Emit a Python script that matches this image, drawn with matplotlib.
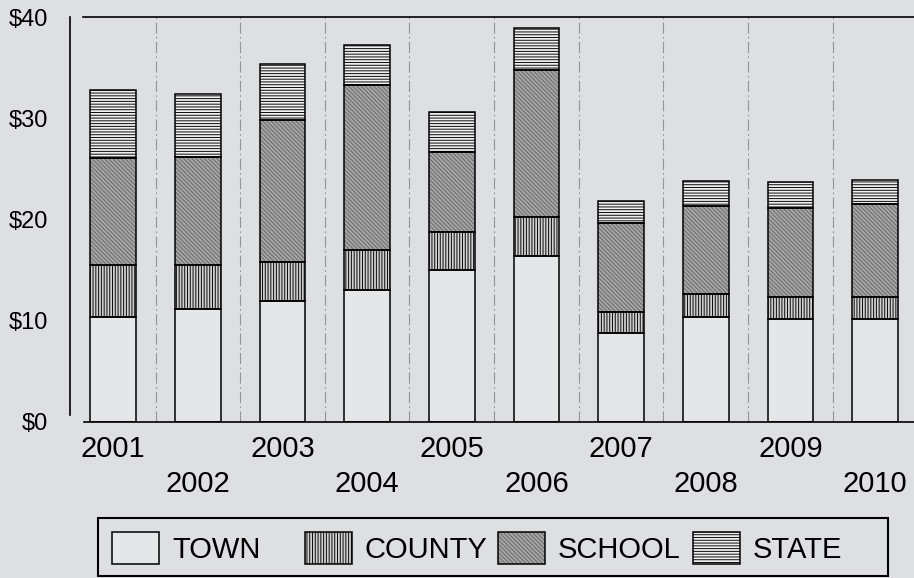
import numpy as np
import matplotlib
matplotlib.use('Agg')
import matplotlib.pyplot as plt
from matplotlib import transforms, font_manager
from matplotlib.patches import Patch, Rectangle
from matplotlib.legend_handler import HandlerTuple

# --- Data ---
years = ['2001', '2002', '2003', '2004', '2005', '2006', '2007', '2008', '2009', '2010']
series_names = ['TOWN', 'COUNTY', 'SCHOOL', 'STATE']
town = [10.4, 11.2, 12.0, 13.0, 15.0, 16.4, 8.8, 10.4, 10.2, 10.2]
county = [5.1, 4.3, 3.8, 4.0, 3.8, 3.8, 2.1, 2.2, 2.1, 2.1]
school = [10.6, 10.7, 14.0, 16.3, 7.9, 14.6, 8.8, 8.7, 8.8, 9.2]
state = [6.7, 6.2, 5.6, 3.9, 3.9, 4.1, 2.1, 2.5, 2.6, 2.4]
y_ticks = [0, 10, 20, 30, 40]
y_tick_labels = ['$0', '$10', '$20', '$30', '$40']

# --- Styling ---
BG = '#dddfe2'
STYLES = {
    'TOWN': dict(face='#e4e6e8', hatch=None, hc='black'),
    'COUNTY': dict(face='#d0d0d0', hatch='||||||', hc='#0a0a0a'),
    'SCHOOL': dict(face='#a6a6a6', hatch='\\\\\\\\\\\\\\\\', hc='#6a6a6a'),
    'STATE': dict(face='#f0f0f0', hatch='------', hc='#0a0a0a'),
}

plt.rcParams['font.family'] = ['Liberation Sans', 'DejaVu Sans']
plt.rcParams['hatch.linewidth'] = 0.7

# the legend text in the reference is tall and narrow
try:
    font_manager.findfont('Liberation Sans Narrow', fallback_to_default=False)
    LEG_FAMILY, LEG_SIZE = ['Liberation Sans Narrow', 'Liberation Sans'], 25
except ValueError:
    LEG_FAMILY, LEG_SIZE = ['Liberation Sans', 'DejaVu Sans'], 21

fig = plt.figure(figsize=(9.14, 5.78), dpi=100, facecolor=BG)
ax = fig.add_axes([70 / 914, 1 - 422 / 578, 844 / 914, 405 / 578])
ax.set_facecolor(BG)

x = np.arange(len(years))
width = 0.54
bottom = np.zeros(len(years))
handles = []
for name, vals in zip(series_names, [town, county, school, state]):
    st = STYLES[name]
    vals = np.array(vals)
    with plt.rc_context({'hatch.color': st['hc']}):
        ax.bar(x, vals, width, bottom=bottom, color=st['face'], hatch=st['hatch'],
               linewidth=0, zorder=2)
        fill = Patch(facecolor=st['face'], hatch=st['hatch'], linewidth=0)
    ax.bar(x, vals, width, bottom=bottom, facecolor='none', edgecolor='black',
           linewidth=1.1, zorder=3)
    edge = Patch(facecolor='none', edgecolor='black', linewidth=1.1)
    handles.append((fill, edge))
    bottom += vals

# dash-dot separators between the years
for xv in x[:-1] + 0.5:
    ax.axvline(xv, color='#949494', lw=0.8, dashes=(10, 3, 1.5, 3), zorder=1)

ax.set_xlim(-0.51, 9.46)
ax.set_ylim(0, 40)

ax.spines['right'].set_visible(False)
for side in ['left', 'top', 'bottom']:
    ax.spines[side].set_color('black')
    ax.spines[side].set_linewidth(1.2)
ax.spines['left'].set_bounds(0.7, 40)
ax.spines['top'].set_bounds(-0.36, 9.46)
ax.spines['bottom'].set_bounds(-0.34, 9.46)

ax.set_yticks(y_ticks, y_tick_labels)
ax.tick_params(axis='y', length=0, pad=16, labelsize=17)
ax.set_xticks([])

# staggered year labels
trans = transforms.blended_transform_factory(ax.transData, ax.transAxes)
rows = [-0.0864, -0.1728]
for i, yr in enumerate(years):
    ax.text(x[i], rows[i % 2], yr, transform=trans, ha='center', va='baseline',
            fontsize=21)

# legend: fixed-width columns inside one box
W, H = 914, 578
fig.patches.append(Rectangle((98 / W, 1 - 576 / H), 790 / W, 58 / H,
                             transform=fig.transFigure, facecolor=BG,
                             edgecolor='black', linewidth=1.5, zorder=1))
col_left = [112, 305, 498, 693]
for px, h, name in zip(col_left, handles, series_names):
    lg = fig.legend([h], [name], loc='center left',
                    bbox_to_anchor=(px / W, 1 - 548 / H),
                    borderaxespad=0, borderpad=0, frameon=False,
                    prop={'family': LEG_FAMILY, 'size': LEG_SIZE},
                    handlelength=47 / (LEG_SIZE * 100 / 72),
                    handleheight=38 / (LEG_SIZE * 100 / 72),
                    handletextpad=13 / (LEG_SIZE * 100 / 72),
                    handler_map={tuple: HandlerTuple(ndivide=1, pad=0)})
    lg.set_zorder(2)

fig.savefig('out.png', dpi=100, facecolor=BG)
